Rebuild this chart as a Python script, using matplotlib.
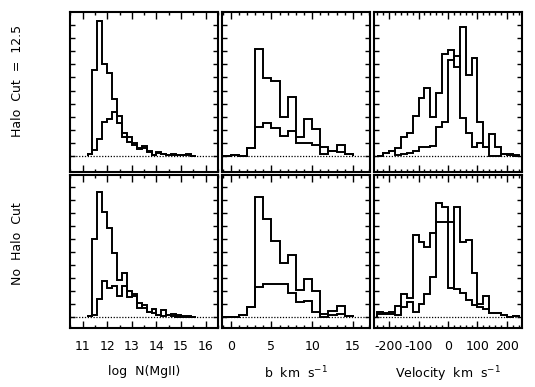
import numpy as np
import matplotlib
matplotlib.use("Agg")
import matplotlib.pyplot as plt
from matplotlib.ticker import MultipleLocator, FixedLocator

plt.rcParams["axes.unicode_minus"] = False

# log N(MgII) histograms, bins of 0.2 starting at 11.2
logn_start, logn_width = 11.2, 0.2
logn_cut_all = [0.13, 6.58, 10.28, 7.0, 6.33, 4.34, 2.5, 1.73, 1.45, 1.0, 0.6,
                0.75, 0.35, 0.05, 0.3, 0.15, 0.1, 0.12, 0.05, 0.05, 0.18, 0.03]
logn_cut_sub = [0.13, 0.43, 1.28, 2.58, 2.8, 3.34, 3.04, 1.45, 1.1, 0.85, 0.5,
                0.6, 0.3, 0.05, 0.2, 0.15, 0.1, 0.1, 0.05, 0.05, 0.05, 0.03]
logn_nocut_all = [0.13, 6.0, 9.62, 8.08, 6.85, 4.92, 2.87, 3.38, 2.05, 1.8, 0.69,
                  0.95, 0.44, 0.62, 0.18, 0.54, 0.2, 0.23, 0.15, 0.1, 0.1, 0.05]
logn_nocut_sub = [0.13, 0.18, 1.41, 2.79, 2.23, 2.41, 1.62, 2.41, 1.56, 1.64, 1.08,
                  0.74, 0.44, 0.31, 0.2, 0.1, 0.15, 0.1, 0.05, 0.05, 0.03, 0.03]

# b parameter histograms, bins of 1 km/s starting at -1
b_start, b_width = -1.0, 1.0
b_cut_all = [0.0, 0.05, 0.0, 0.59, 8.16, 5.94, 5.74, 3.0, 4.49, 1.45, 2.8, 2.07,
             0.71, 0.38, 0.84, 0.13]
b_cut_sub = [0.0, 0.05, 0.0, 0.59, 2.19, 2.5, 2.12, 1.56, 1.94, 0.97, 0.97, 0.84,
             0.13, 0.4, 0.28, 0.13]
b_nocut_all = [0.0, 0.05, 0.18, 0.82, 9.23, 7.54, 5.87, 4.15, 4.77, 2.1, 2.95,
               2.03, 0.26, 0.49, 0.87, 0.13]
b_nocut_sub = [0.0, 0.05, 0.18, 0.82, 2.31, 2.56, 2.56, 2.56, 1.85, 1.15, 1.26,
               0.44, 0.03, 0.15, 0.23, 0.13]

# velocity histograms, bins of 20 km/s starting at -240
v_start, v_width = -240.0, 20.0
v_cut_all = [0.03, 0.26, 0.41, 0.59, 1.45, 1.76, 3.06, 4.41, 5.18, 2.96, 4.80, 7.78,
             8.09, 6.79, 9.85, 6.17, 7.47, 2.63, 0.71, 1.66, 0.71, 0.13, 0.13, 0.05]
v_cut_sub = [0.03, 0.26, 0.35, 0.05, 0.13, 0.26, 0.41, 0.71, 0.71, 0.8, 2.19, 2.58,
             7.3, 7.65, 2.88, 1.73, 0.71, 0.97, 0.71, 0.03, 0.03, 0.13, 0.05, 0.03]
v_nocut_all = [0.44, 0.31, 0.44, 0.87, 1.77, 1.51, 6.33, 5.82, 5.38, 6.46, 8.77, 8.46,
               2.23, 8.46, 5.82, 5.95, 3.38, 1.0, 1.64, 0.31, 0.31, 0.15, 0.05, 0.13]
v_nocut_sub = [0.26, 0.26, 0.26, 0.15, 0.82, 1.2, 0.44, 1.0, 1.77, 3.13, 7.36, 7.36,
               7.36, 2.18, 1.85, 1.33, 0.95, 0.82, 0.62, 0.31, 0.31, 0.15, 0.05, 0.13]

row_labels = ["Halo  Cut  =  12.5", "No  Halo  Cut"]
x_labels = ["log  N(MgII)", "b  km  s$^{-1}$", "Velocity  km  s$^{-1}$"]
logn_ticks = [11, 12, 13, 14, 15, 16]
b_ticks = [0, 5, 10, 15]
v_ticks = [-200, -100, 0, 100, 200]

W, H = 535, 387
fig = plt.figure(figsize=(W / 100, H / 100), dpi=100)

cols = [(70.3, 218.0), (221.7, 370.0), (374.3, 521.7)]
rows = [(12, 172), (175, 328)]
ylims = [(-1.22, 11.0), (-0.82, 10.95)]
xlims = [(10.5, 16.5), (-1.1, 17.1), (-250, 250)]
major = [logn_ticks, b_ticks, v_ticks]
minor = [0.5, 1, 20]

data = [
    [(logn_start, logn_width, logn_cut_all, logn_cut_sub),
     (b_start, b_width, b_cut_all, b_cut_sub),
     (v_start, v_width, v_cut_all, v_cut_sub)],
    [(logn_start, logn_width, logn_nocut_all, logn_nocut_sub),
     (b_start, b_width, b_nocut_all, b_nocut_sub),
     (v_start, v_width, v_nocut_all, v_nocut_sub)],
]

for r, (yt, yb) in enumerate(rows):
    for c, (xl, xr) in enumerate(cols):
        ax = fig.add_axes([xl / W, 1 - yb / H, (xr - xl) / W, (yb - yt) / H])
        start, width, vals_a, vals_b = data[r][c]
        for vals in (vals_a, vals_b):
            edges = start + width * np.arange(len(vals) + 1)
            ax.stairs(vals, edges, baseline=0, color="black", lw=1.4)
        ax.axhline(0, color="black", lw=0.9, ls=(0, (1, 1.3)))

        ax.set_xlim(*xlims[c])
        ax.set_ylim(*ylims[r])
        ax.xaxis.set_major_locator(FixedLocator(major[c]))
        ax.xaxis.set_minor_locator(MultipleLocator(minor[c]))
        ax.yaxis.set_major_locator(FixedLocator(range(0, 11)))
        ax.tick_params(axis="x", which="major", direction="in", top=True,
                       length=5, width=1, labelsize=9, pad=9)
        ax.tick_params(axis="x", which="minor", direction="in", top=True,
                       length=2.5, width=1)
        ax.tick_params(axis="y", which="major", direction="in", right=True,
                       length=3.5, width=1, labelleft=False)
        for s in ax.spines.values():
            s.set_linewidth(1.5)
        if r == 0:
            ax.tick_params(axis="x", labelbottom=False)
        else:
            ax.set_xlabel(x_labels[c], fontsize=9, labelpad=8)

fig.text(18 / W, 1 - 81 / H, row_labels[0], rotation=90, fontsize=9,
         ha="center", va="center")
fig.text(18 / W, 1 - 244 / H, row_labels[1], rotation=90, fontsize=9,
         ha="center", va="center")

fig.savefig("out.png", dpi=100)
